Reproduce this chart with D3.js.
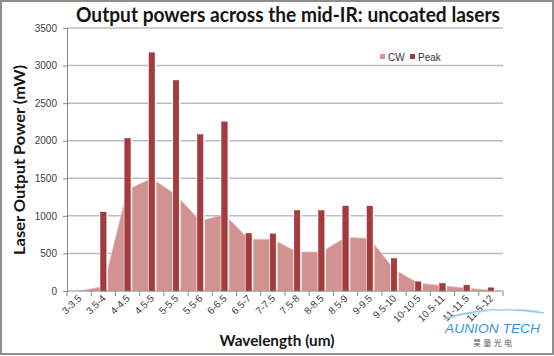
<!DOCTYPE html>
<html>
<head>
<meta charset="utf-8">
<script src="https://cdn.jsdelivr.net/npm/d3@7"></script>
<style>
  html, body { margin: 0; padding: 0; background: #fff; }
  svg { display: block; }
</style>
</head>
<body>
<svg id="chart" width="554" height="356"></svg>
<script>
// ---- data ----
const categories = ["3-3.5","3.5-4","4-4.5","4.5-5","5-5.5","5.5-6","6-6.5","6.5-7","7-7.5","7.5-8","8-8.5","8.5-9","9-9.5","9.5-10","10-10.5","10.5-11","11-11.5","11.5-12"];
const cwValues   = [0, 60, 1350, 1500, 1280, 930, 1020, 690, 690, 520, 520, 715, 700, 290, 105, 72, 38, 12];
const peakValues = [null, 1050, 2030, 3170, 2800, 2080, 2250, 765, 760, 1070, 1070, 1130, 1130, 430, 122, 100, 78, 42];
const yTicks = [0, 500, 1000, 1500, 2000, 2500, 3000, 3500];
const seriesNames = ["CW", "Peak"];

(function () {
const svg = d3.select("#chart");
const plotL = 67, plotR = 503, plotT = 28, plotB = 291;

const x = d3.scaleBand().domain(categories).range([plotL, plotR]).paddingInner(0).paddingOuter(0);
const y = d3.scaleLinear().domain([0, 3500]).range([plotB, plotT]);
const cx = c => x(c) + x.bandwidth() / 2;

const cwColor = "#D19292";
const peakColor = "#A63B3D";

// frame
svg.append("rect").attr("x", 1).attr("y", 1).attr("width", 552).attr("height", 353)
  .attr("fill", "#fff").attr("stroke", "#8e8e8e").attr("stroke-width", 2);

// gridlines
svg.append("g").selectAll("line").data(yTicks.filter(d => d > 0)).join("line")
  .attr("x1", plotL).attr("x2", plotR)
  .attr("y1", d => y(d)).attr("y2", d => y(d))
  .attr("stroke", "#bdbdbd").attr("stroke-width", 1.5);

// area (CW)
const area = d3.area()
  .x((d, i) => cx(categories[i]))
  .y0(y(0))
  .y1(d => y(d));
svg.append("path").datum(cwValues)
  .attr("d", area)
  .attr("fill", cwColor)
  .attr("stroke", "#e8c4c4").attr("stroke-width", 0.8);

// bars (Peak)
const bw = 5.5;
const peakData = categories.map((c, i) => ({c, v: peakValues[i]})).filter(d => d.v != null);
const gb = svg.append("g");
gb.selectAll("rect.glow").data(peakData).join("rect")
  .attr("class", "glow")
  .attr("x", d => cx(d.c) - bw / 2 - 1)
  .attr("y", d => y(d.v) - 0.5)
  .attr("width", bw + 3)
  .attr("height", d => y(0) - y(d.v) + 0.5)
  .attr("fill", "#ffffff").attr("opacity", 0.85);
gb.selectAll("rect.bar").data(peakData).join("rect")
  .attr("class", "bar")
  .attr("x", d => cx(d.c) - bw / 2)
  .attr("y", d => y(d.v))
  .attr("width", bw)
  .attr("height", d => y(0) - y(d.v))
  .attr("fill", peakColor)
  .attr("stroke", "#8f2f31").attr("stroke-width", 0.5);

// y axis
const gy = svg.append("g").attr("transform", `translate(${plotL},0)`)
  .call(d3.axisLeft(y).tickValues(yTicks).tickSize(4).tickPadding(6).tickFormat(d3.format("d")));
gy.select(".domain").attr("stroke", "#888");
gy.selectAll(".tick line").attr("stroke", "#888");
gy.selectAll(".tick text").attr("font-family", "'Liberation Sans', Arial, sans-serif")
  .attr("font-size", 10).attr("fill", "#404040");

// x axis
const xBounds = categories.map(c => x(c)).concat([plotR]);
const gx = svg.append("g");
gx.append("line").attr("x1", plotL).attr("x2", plotR).attr("y1", plotB).attr("y2", plotB)
  .attr("stroke", "#888").attr("stroke-width", 1);
gx.selectAll("line.tk").data(xBounds).join("line").attr("class", "tk")
  .attr("x1", d => d).attr("x2", d => d).attr("y1", plotB).attr("y2", plotB + 5)
  .attr("stroke", "#888");
gx.selectAll("text").data(categories).join("text")
  .attr("transform", d => `translate(${cx(d) + 3},${plotB + 8}) rotate(-45)`)
  .attr("text-anchor", "end")
  .attr("font-family", "'Liberation Sans', Arial, sans-serif")
  .attr("font-size", 10).attr("fill", "#404040")
  .text(d => d);

// titles
svg.append("text").attr("x", 288).attr("y", 22).attr("text-anchor", "middle")
  .attr("font-family", "Lato, 'Open Sans', sans-serif").attr("font-weight", "bold")
  .attr("font-size", 20).attr("fill", "#141414")
  .attr("textLength", 424).attr("lengthAdjust", "spacingAndGlyphs")
  .text("Output powers across the mid-IR: uncoated lasers");

svg.append("text").attr("transform", "translate(25,160) rotate(-90)").attr("text-anchor", "middle")
  .attr("font-family", "Lato, 'Open Sans', sans-serif").attr("font-weight", "bold")
  .attr("font-size", 15).attr("fill", "#141414")
  .attr("textLength", 190).attr("lengthAdjust", "spacingAndGlyphs")
  .text("Laser Output Power (mW)");

svg.append("text").attr("x", 277).attr("y", 346).attr("text-anchor", "middle")
  .attr("font-family", "Lato, 'Open Sans', sans-serif").attr("font-weight", "bold")
  .attr("font-size", 15).attr("fill", "#141414")
  .attr("textLength", 115).attr("lengthAdjust", "spacingAndGlyphs")
  .text("Wavelength (um)");

// legend
const legend = svg.append("g");
const legX = [380, 410];
const legColors = ["#D69696", peakColor];
seriesNames.forEach((n, i) => {
  legend.append("rect").attr("x", legX[i]).attr("y", 54).attr("width", 5).attr("height", 5)
    .attr("fill", legColors[i]);
  legend.append("text").attr("x", legX[i] + 8).attr("y", 60.5)
    .attr("font-family", "'Liberation Sans', Arial, sans-serif").attr("font-size", 10)
    .attr("fill", "#333").text(n);
});

// logo
const logo = svg.append("g");
logo.append("path").attr("d", "M444,319 Q492,304 544,313")
  .attr("fill", "none").attr("stroke", "#8ccbf0").attr("stroke-width", 1.6);
logo.append("path").attr("d", "M470,314 Q505,306 540,311")
  .attr("fill", "none").attr("stroke", "#c4e4f7").attr("stroke-width", 1);
logo.append("text").attr("x", 445).attr("y", 333)
  .attr("font-family", "'Liberation Sans', Arial, sans-serif").attr("font-style", "italic")
  .attr("font-size", 12).attr("fill", "#3a92da")
  .attr("textLength", 95).attr("lengthAdjust", "spacingAndGlyphs")
  .text("AUNION TECH");
logo.append("text").attr("x", 473).attr("y", 346)
  .attr("font-family", "'Noto Sans CJK SC', sans-serif")
  .attr("font-size", 8).attr("fill", "#555")
  .attr("textLength", 39).attr("lengthAdjust", "spacing")
  .text("昊量光电");
})();
</script>
</body>
</html>
